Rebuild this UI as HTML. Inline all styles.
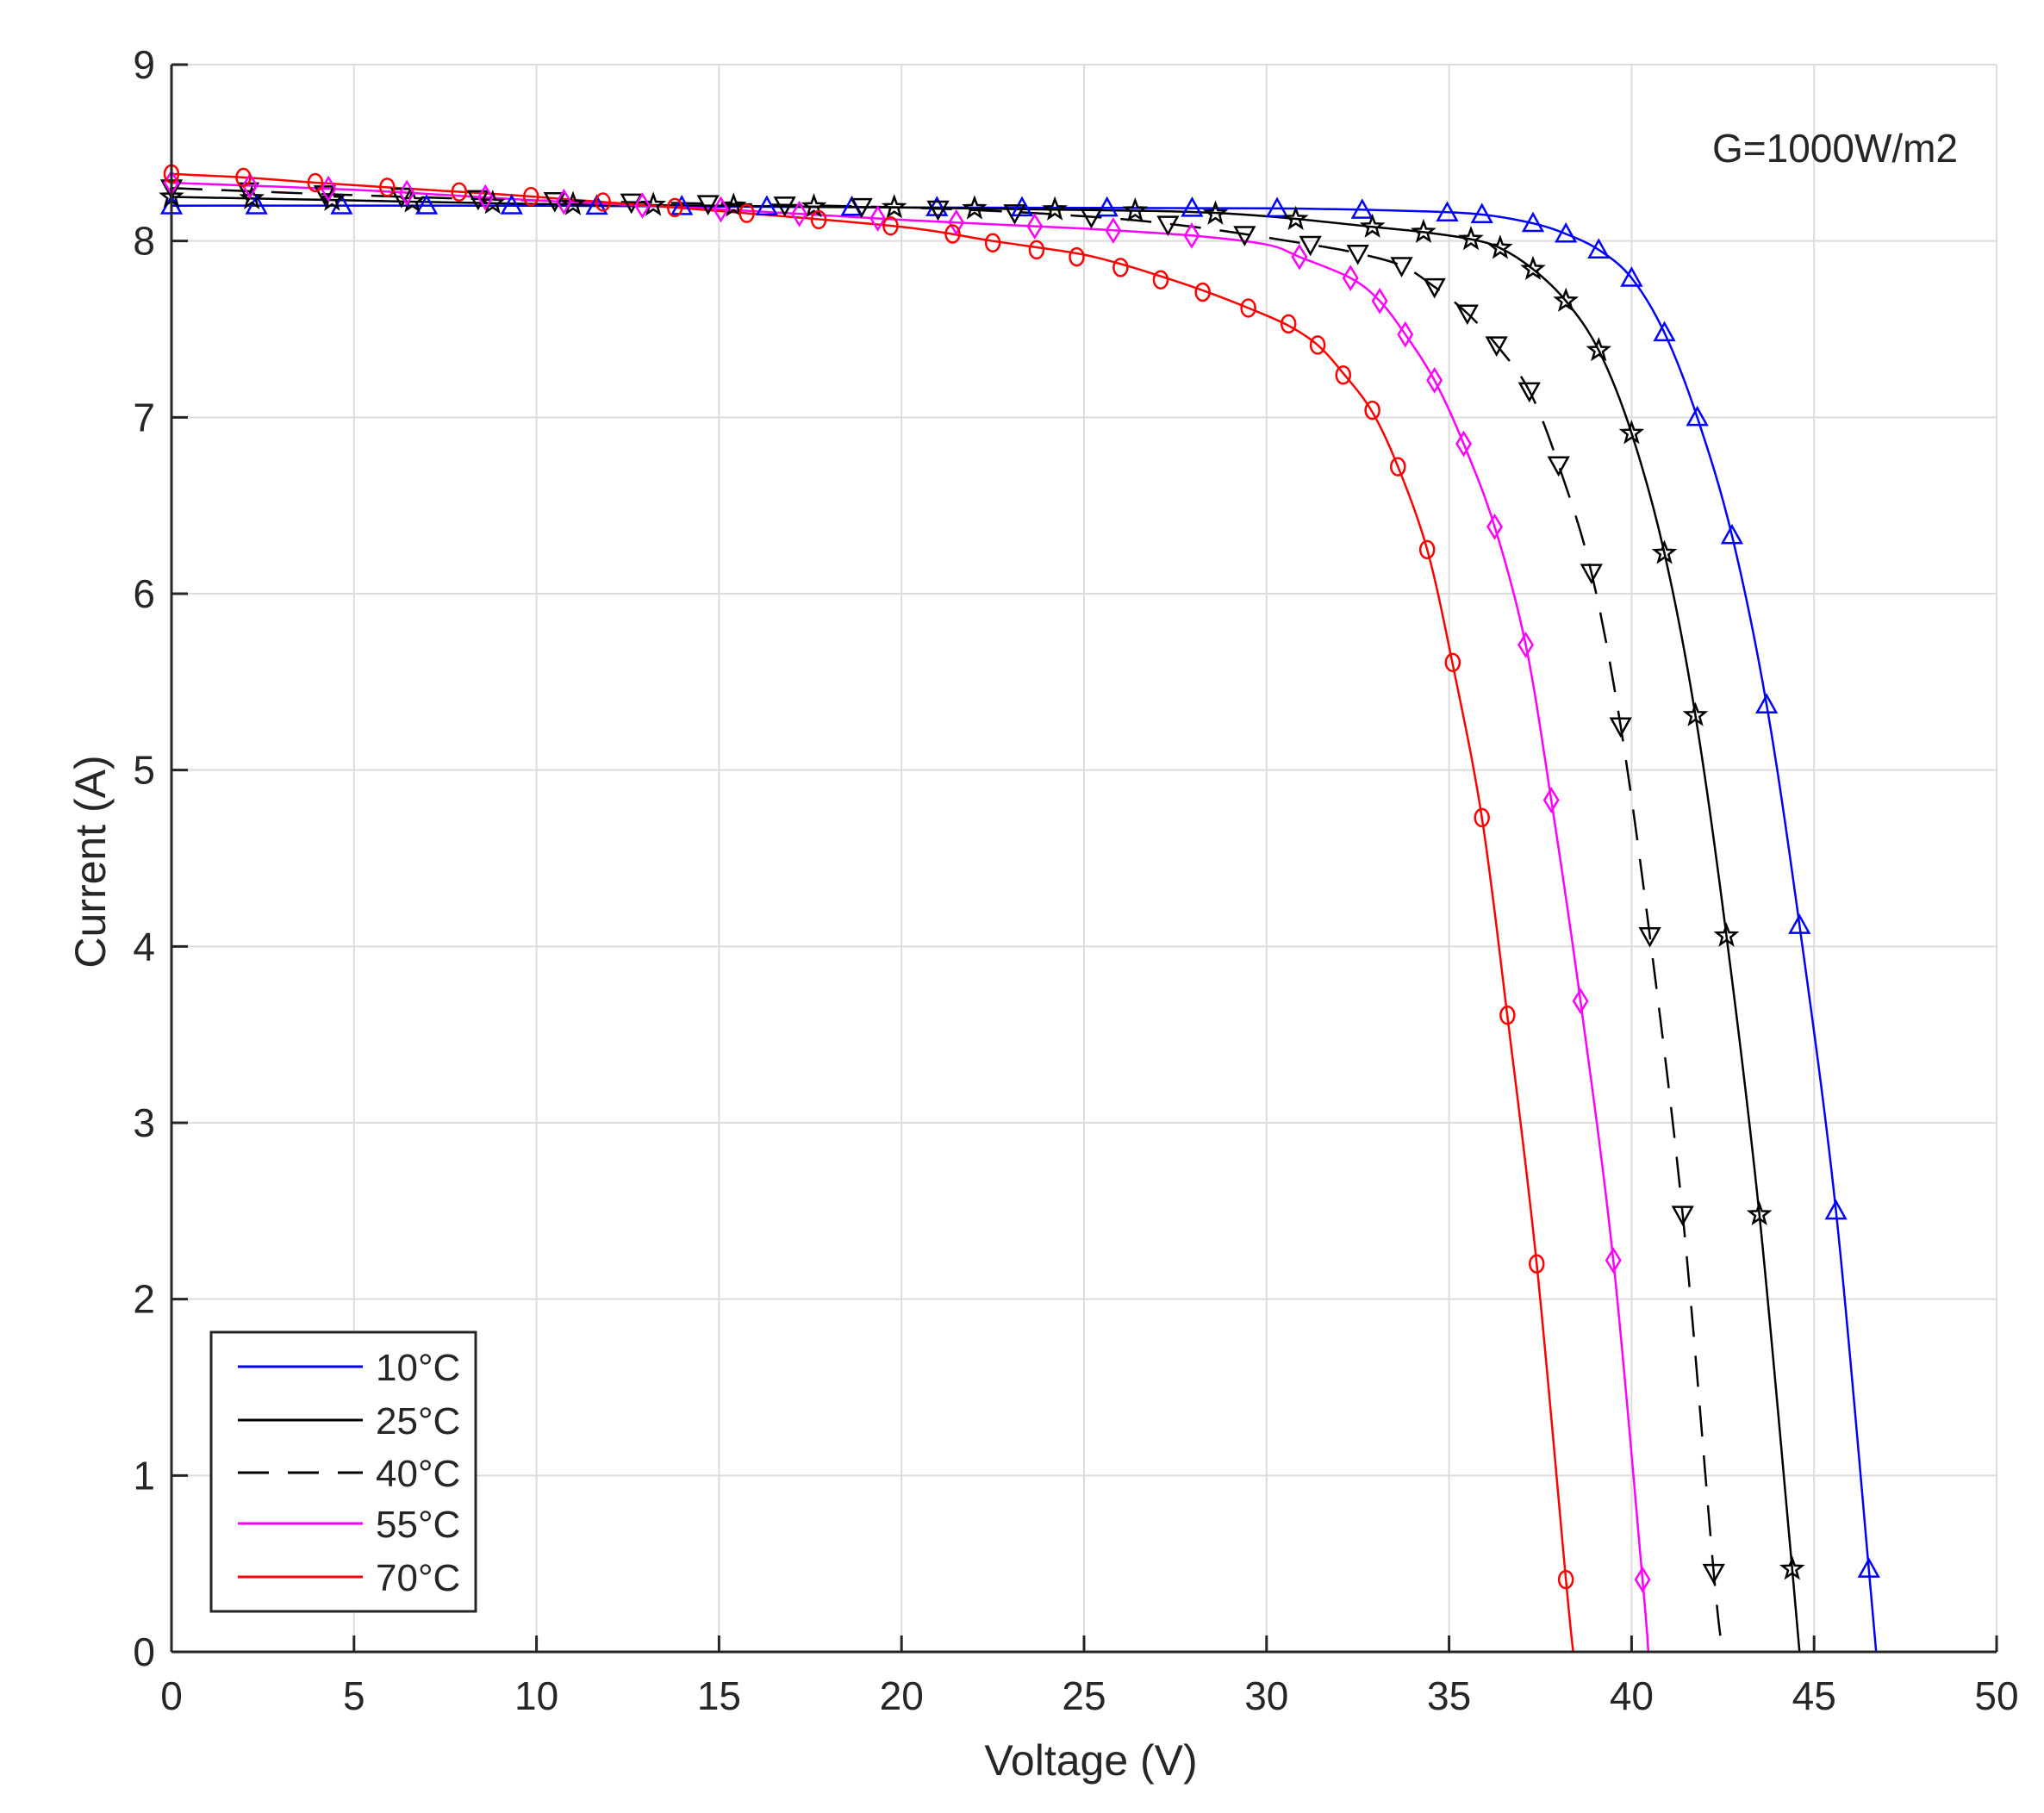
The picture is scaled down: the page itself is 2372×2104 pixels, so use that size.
<!DOCTYPE html>
<html><head><meta charset="utf-8"><style>
html,body{margin:0;padding:0;background:#fff}
svg{display:block}
text{font-family:"Liberation Sans",Arial,sans-serif;fill:#262626}
</style></head><body>
<svg id="s" width="2372" height="2104" viewBox="0 0 2372 2104" xmlns="http://www.w3.org/2000/svg">
<rect width="2372" height="2104" fill="#fff"/>
<g id="grid"></g>
<g id="curves"></g>
<g id="axes"></g>
<text x="1987" y="188" font-size="46">G=1000W/m2</text>
<text x="1266" y="2060" font-size="50" text-anchor="middle">Voltage (V)</text>
<text transform="translate(122,1000) rotate(-90)" font-size="50" text-anchor="middle">Current (A)</text>
<g id="legend">
<rect x="245" y="1546" width="307" height="324" fill="#fff" stroke="#262626" stroke-width="3"/>
<line x1="276" y1="1586" x2="421" y2="1586" stroke="#0000ff" stroke-width="3"/>
<line x1="276" y1="1648" x2="421" y2="1648" stroke="#000" stroke-width="3"/>
<line x1="276" y1="1709" x2="421" y2="1709" stroke="#000" stroke-width="3" stroke-dasharray="36,22"/>
<line x1="276" y1="1768" x2="421" y2="1768" stroke="#ff00ff" stroke-width="3"/>
<line x1="276" y1="1830" x2="421" y2="1830" stroke="#ff0000" stroke-width="3"/>
<text x="436" y="1602" font-size="44">10°C</text>
<text x="436" y="1664" font-size="44">25°C</text>
<text x="436" y="1725" font-size="44">40°C</text>
<text x="436" y="1784" font-size="44">55°C</text>
<text x="436" y="1846" font-size="44">70°C</text>
</g>
</svg>
<script>
var NS="http://www.w3.org/2000/svg";
var X0=199,X1=2317,Y0=1917,Y1=75;
function px(v){return X0+v*(X1-X0)/50}
function py(i){return Y0-i*(Y0-Y1)/9}
function el(p,tag,a){var e=document.createElementNS(NS,tag);for(var k in a)e.setAttribute(k,a[k]);p.appendChild(e);return e}
var g=document.getElementById('grid'),ax=document.getElementById('axes'),cv=document.getElementById('curves');
for(var v=5;v<=50;v+=5)el(g,'line',{x1:px(v),y1:Y0,x2:px(v),y2:Y1,stroke:'#dcdcdc','stroke-width':2});
for(var i=1;i<=9;i++)el(g,'line',{x1:X0,y1:py(i),x2:X1,y2:py(i),stroke:'#dcdcdc','stroke-width':2});
el(ax,'line',{x1:X0,y1:Y0,x2:X1,y2:Y0,stroke:'#262626','stroke-width':3});
el(ax,'line',{x1:X0,y1:Y0,x2:X0,y2:Y1,stroke:'#262626','stroke-width':3});
for(var v=0;v<=50;v+=5){el(ax,'line',{x1:px(v),y1:Y0,x2:px(v),y2:Y0-19,stroke:'#262626','stroke-width':3});
 var t=el(ax,'text',{x:px(v),y:1984,'font-size':46,'text-anchor':'middle'});t.textContent=v;}
for(var i=0;i<=9;i++){el(ax,'line',{x1:X0,y1:py(i),x2:X0+19,y2:py(i),stroke:'#262626','stroke-width':3});
 var t=el(ax,'text',{x:180,y:py(i)+16,'font-size':46,'text-anchor':'end'});t.textContent=i;}
var C=[
 {c:'#0000ff',d:null,m:'tu',sp:2.33,flat:35,pts:[[0,8.2],[10,8.2],[20,8.19],[30,8.185],[34,8.17],[35.9,8.15],[37.3,8.1],[38.2,8.04],[39.1,7.95],[40,7.79],[40.9,7.48],[41.8,7.0],[42.75,6.33],[43.7,5.37],[44.6,4.12],[45.6,2.5],[46.5,0.47],[46.7,0]],mk:[[35.9,8.15],[37.3,8.1],[38.2,8.04],[39.1,7.95],[40,7.79],[40.9,7.48],[41.8,7.0],[42.75,6.33],[43.7,5.37],[44.6,4.12],[45.6,2.5],[46.5,0.47]]},
 {c:'#000',d:null,m:'st',sp:2.2,flat:31,pts:[[0,8.25],[5,8.23],[10,8.21],[20,8.19],[27,8.17],[30,8.14],[32.9,8.08],[34.3,8.05],[35.6,8.01],[36.4,7.96],[37.3,7.84],[38.2,7.66],[39.1,7.38],[40,6.91],[40.9,6.23],[41.75,5.31],[42.6,4.06],[43.5,2.48],[44.4,0.47],[44.6,0]],mk:[[32.9,8.08],[34.3,8.05],[35.6,8.01],[36.4,7.96],[37.3,7.84],[38.2,7.66],[39.1,7.38],[40,6.91],[40.9,6.23],[41.75,5.31],[42.6,4.06],[43.5,2.48],[44.4,0.47]]},
 {c:'#000',d:'36,22',m:'td',sp:2.1,flat:30,pts:[[0,8.3],[5,8.26],[10,8.23],[20,8.19],[25,8.14],[28,8.08],[31.2,7.98],[32.5,7.93],[33.7,7.86],[34.6,7.74],[35.5,7.59],[36.3,7.41],[37.2,7.15],[38,6.73],[38.9,6.12],[39.7,5.25],[40.5,4.06],[41.4,2.48],[42.25,0.45],[42.5,0]],mk:[[31.2,7.98],[32.5,7.93],[33.7,7.86],[34.6,7.74],[35.5,7.59],[36.3,7.41],[37.2,7.15],[38,6.73],[38.9,6.12],[39.7,5.25],[40.5,4.06],[41.4,2.48],[42.25,0.45]]},
 {c:'#ff00ff',d:null,m:'di',sp:2.15,flat:29,pts:[[0,8.33],[5,8.29],[10,8.23],[15,8.18],[20,8.12],[25,8.07],[28,8.03],[30,7.98],[30.9,7.91],[32.3,7.79],[33.1,7.66],[33.8,7.47],[34.6,7.21],[35.4,6.85],[36.25,6.38],[37.1,5.71],[37.8,4.83],[38.6,3.69],[39.5,2.22],[40.3,0.41],[40.46,0]],mk:[[30.9,7.91],[32.3,7.79],[33.1,7.66],[33.8,7.47],[34.6,7.21],[35.4,6.85],[36.25,6.38],[37.1,5.71],[37.8,4.83],[38.6,3.69],[39.5,2.22],[40.3,0.41]]},
 {c:'#ff0000',d:null,m:'ci',sp:1.97,flat:20.5,pts:[[0,8.38],[2,8.36],[4,8.33],[7,8.29],[10,8.25],[15,8.17],[20,8.08],[22.5,8.0],[24.8,7.93],[26,7.87],[27.1,7.8],[28.25,7.72],[29.5,7.62],[30.6,7.52],[31.4,7.41],[32.1,7.25],[32.9,7.03],[33.6,6.72],[34.4,6.25],[35.1,5.6],[35.9,4.73],[36.6,3.6],[37.4,2.2],[38.2,0.41],[38.4,0]],mk:[[21.4,8.04],[22.5,7.99],[23.7,7.95],[24.8,7.91],[26,7.85],[27.1,7.78],[28.25,7.71],[29.5,7.62],[30.6,7.53],[31.4,7.41],[32.1,7.24],[32.9,7.04],[33.6,6.72],[34.4,6.25],[35.1,5.61],[35.9,4.73],[36.6,3.61],[37.4,2.2],[38.2,0.41]]}
];
function interpI(pts,v){for(var k=0;k<pts.length-1;k++){if(v<=pts[k+1][0]){var a=pts[k],b=pts[k+1];return a[1]+(b[1]-a[1])*(v-a[0])/(b[0]-a[0]);}}return pts[pts.length-1][1]}
function cr(P){var s='M'+P[0][0].toFixed(1)+','+P[0][1].toFixed(1);
 for(var k=0;k<P.length-1;k++){var p0=P[k-1]||P[k],p1=P[k],p2=P[k+1],p3=P[k+2]||p2;
  var c1=[p1[0]+(p2[0]-p0[0])/6,p1[1]+(p2[1]-p0[1])/6],c2=[p2[0]-(p3[0]-p1[0])/6,p2[1]-(p3[1]-p1[1])/6];
  s+='C'+c1[0].toFixed(1)+','+c1[1].toFixed(1)+' '+c2[0].toFixed(1)+','+c2[1].toFixed(1)+' '+p2[0].toFixed(1)+','+p2[1].toFixed(1);}
 return s}
function marker(p,type,x,y,c){var r=11;
 if(type=='tu')el(p,'polygon',{points:[x,y-r,x-r,y+r*0.8,x+r,y+r*0.8].join(' '),fill:'none',stroke:c,'stroke-width':2.5});
 else if(type=='td')el(p,'polygon',{points:[x,y+r,x-r,y-r*0.8,x+r,y-r*0.8].join(' '),fill:'none',stroke:c,'stroke-width':2.5});
 else if(type=='di')el(p,'polygon',{points:[x,y-13,x-8,y,x,y+13,x+8,y].join(' '),fill:'none',stroke:c,'stroke-width':2.5});
 else if(type=='ci')el(p,'ellipse',{cx:x,cy:y,rx:8,ry:10,fill:'none',stroke:c,'stroke-width':2.5});
 else{var s='';for(var k=0;k<10;k++){var a=-Math.PI/2+k*Math.PI/5,rr=k%2?5:12;s+=(x+rr*Math.cos(a)).toFixed(1)+','+(y+rr*Math.sin(a)).toFixed(1)+' ';}
  el(p,'polygon',{points:s,fill:'none',stroke:c,'stroke-width':2.5});}}
C.forEach(function(o){
 var P=o.pts.map(function(q){return [px(q[0]),py(q[1])]});
 var a={d:cr(P),fill:'none',stroke:o.c,'stroke-width':2.5};if(o.d)a['stroke-dasharray']=o.d;
 el(cv,'path',a);
});
C.forEach(function(o){
 for(var v=0;v<o.flat;v+=o.sp)marker(cv,o.m,px(v),py(interpI(o.pts,v)),o.c);
 o.mk.forEach(function(q){marker(cv,o.m,px(q[0]),py(q[1]),o.c)});
});
</script>
</body></html>
